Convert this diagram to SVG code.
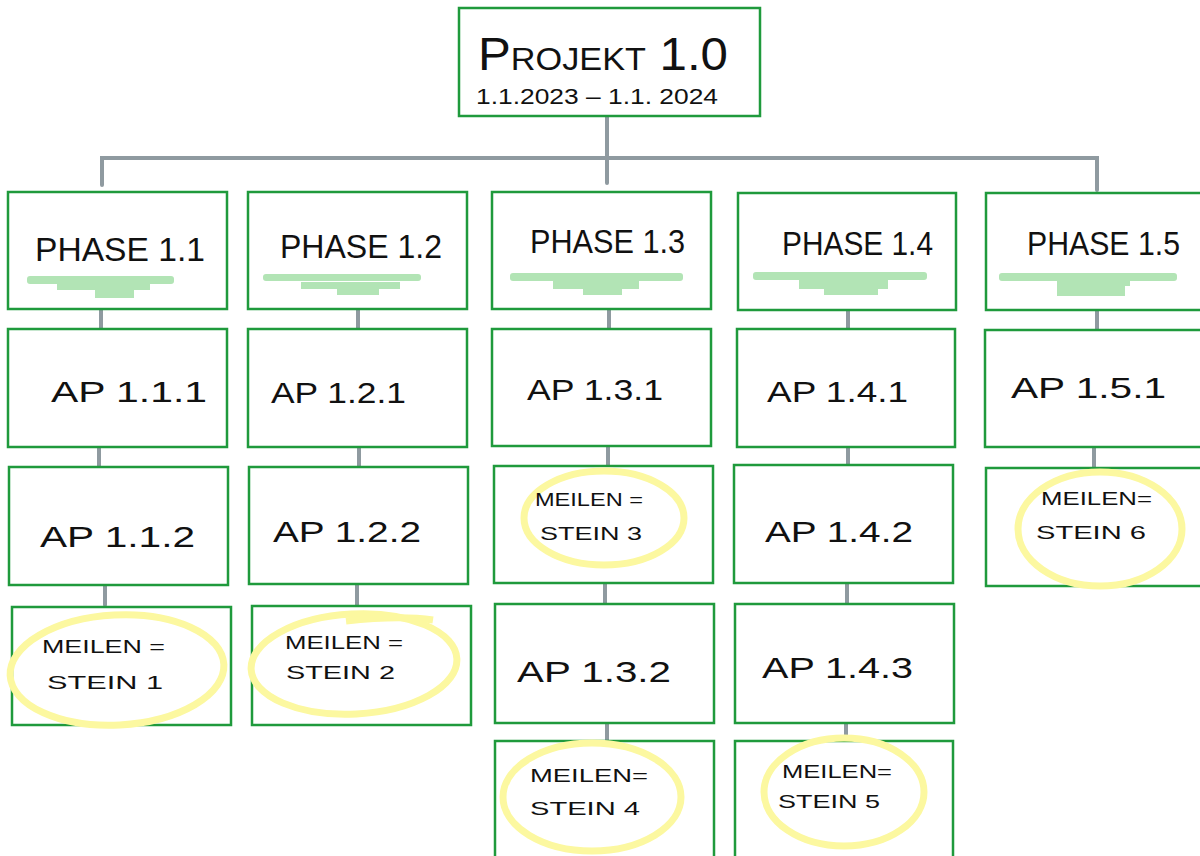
<svg xmlns="http://www.w3.org/2000/svg" width="1200" height="856" viewBox="0 0 1200 856">
<style>
.box{fill:#ffffff;stroke:#1f9a3c;stroke-width:2.5}
.con{fill:none;stroke:#8f9aa0;stroke-width:4;stroke-linecap:round}
.hl{fill:#b2e4b5}
.ms{fill:none;stroke:#fcf8a0;stroke-width:7}
.t{font-family:"Liberation Sans",Arial,sans-serif;fill:#111111}
.ph{font-size:34px}
.ap{font-size:29px}
.mt{font-size:19px}
</style>
<rect width="1200" height="856" fill="#ffffff"/>
<g id="connectors">
<path class="con" d="M607,116 V183 M102,185 V158 H1097 V190"/>
<path class="con" d="M101,309 V329 M99,447 V467 M105,585 V605"/>
<path class="con" d="M358,309 V329 M359,447 V467 M357,584 V605"/>
<path class="con" d="M609,309 V329 M608,446 V466 M605,583 V604 M607,723 V741"/>
<path class="con" d="M848,310 V329 M848,447 V465 M847,583 V604 M846,723 V741"/>
<path class="con" d="M1097,310 V330 M1094,447 V468"/>
</g>
<g id="root">
<rect class="box" x="459" y="8" width="301" height="108"/>
<text class="t" x="478" y="70" font-size="46" font-variant="small-caps" textLength="250" lengthAdjust="spacingAndGlyphs">Projekt 1.0</text>
<text class="t" x="476" y="104" font-size="22" textLength="242" lengthAdjust="spacingAndGlyphs">1.1.2023 – 1.1. 2024</text>
</g>
<g id="phase11">
<rect class="box" x="8" y="192" width="219" height="117"/>
<rect class="hl" x="27" y="276" width="147" height="8" rx="3"/><rect class="hl" x="57" y="283" width="93" height="7"/><rect class="hl" x="95" y="289" width="39" height="9"/>
<text class="t ph" x="35" y="261" textLength="170" lengthAdjust="spacingAndGlyphs">PHASE 1.1</text>
</g>
<g id="phase12">
<rect class="box" x="248" y="192" width="219" height="117"/>
<rect class="hl" x="263" y="274" width="158" height="7" rx="3"/><rect class="hl" x="301" y="282" width="99" height="7"/><rect class="hl" x="337" y="288" width="42" height="7"/>
<text class="t ph" x="280" y="258" textLength="162" lengthAdjust="spacingAndGlyphs">PHASE 1.2</text>
</g>
<g id="phase13">
<rect class="box" x="492" y="192" width="219" height="117"/>
<rect class="hl" x="510" y="273" width="173" height="8" rx="3"/><rect class="hl" x="553" y="280" width="86" height="9"/><rect class="hl" x="583" y="288" width="39" height="7"/>
<text class="t ph" x="530" y="253" textLength="155" lengthAdjust="spacingAndGlyphs">PHASE 1.3</text>
</g>
<g id="phase14">
<rect class="box" x="738" y="193" width="218" height="117"/>
<rect class="hl" x="753" y="272" width="174" height="8" rx="3"/><rect class="hl" x="799" y="279" width="89" height="10"/><rect class="hl" x="824" y="288" width="54" height="7"/>
<text class="t ph" x="782" y="255" textLength="151" lengthAdjust="spacingAndGlyphs">PHASE 1.4</text>
</g>
<g id="phase15">
<rect class="box" x="986" y="193" width="220" height="117"/>
<rect class="hl" x="999" y="273" width="178" height="8" rx="3"/><rect class="hl" x="1077" y="280" width="53" height="6"/><rect class="hl" x="1057" y="280" width="68" height="16"/>
<text class="t ph" x="1027" y="255" textLength="153" lengthAdjust="spacingAndGlyphs">PHASE 1.5</text>
</g>
<g id="ap111">
<rect class="box" x="8" y="329" width="219" height="118"/>
<text class="t ap" x="51" y="402" textLength="156" lengthAdjust="spacingAndGlyphs">AP 1.1.1</text>
</g>
<g id="ap121">
<rect class="box" x="248" y="329" width="219" height="118"/>
<text class="t ap" x="271" y="403" textLength="135" lengthAdjust="spacingAndGlyphs">AP 1.2.1</text>
</g>
<g id="ap131">
<rect class="box" x="492" y="329" width="219" height="117"/>
<text class="t ap" x="527" y="400" textLength="136" lengthAdjust="spacingAndGlyphs">AP 1.3.1</text>
</g>
<g id="ap141">
<rect class="box" x="737" y="329" width="218" height="118"/>
<text class="t ap" x="767" y="402" textLength="141" lengthAdjust="spacingAndGlyphs">AP 1.4.1</text>
</g>
<g id="ap151">
<rect class="box" x="985" y="330" width="221" height="117"/>
<text class="t ap" x="1011" y="398" textLength="155" lengthAdjust="spacingAndGlyphs">AP 1.5.1</text>
</g>
<g id="ap112">
<rect class="box" x="9" y="467" width="219" height="118"/>
<text class="t ap" x="40" y="547" textLength="155" lengthAdjust="spacingAndGlyphs">AP 1.1.2</text>
</g>
<g id="ap122">
<rect class="box" x="249" y="467" width="219" height="117"/>
<text class="t ap" x="273" y="542" textLength="148" lengthAdjust="spacingAndGlyphs">AP 1.2.2</text>
</g>
<g id="ms3">
<rect class="box" x="494" y="466" width="219" height="117"/>
<ellipse class="ms" cx="604" cy="518" rx="80" ry="47"/>
<text class="t mt" x="535" y="506" textLength="108" lengthAdjust="spacingAndGlyphs">MEILEN =</text>
<text class="t mt" x="540" y="540" font-size="21" textLength="102" lengthAdjust="spacingAndGlyphs">STEIN 3</text>
</g>
<g id="ap142">
<rect class="box" x="734" y="465" width="219" height="118"/>
<text class="t ap" x="765" y="542" textLength="148" lengthAdjust="spacingAndGlyphs">AP 1.4.2</text>
</g>
<g id="ms6">
<rect class="box" x="986" y="468" width="220" height="118"/>
<ellipse class="ms" cx="1100" cy="529" rx="82" ry="57"/>
<text class="t mt" x="1041" y="505" textLength="111" lengthAdjust="spacingAndGlyphs">MEILEN=</text>
<text class="t mt" x="1036" y="539" font-size="21" textLength="110" lengthAdjust="spacingAndGlyphs">STEIN 6</text>
</g>
<g id="ms1">
<rect class="box" x="12" y="607" width="219" height="118"/>
<ellipse class="ms" cx="117" cy="670" rx="107" ry="55" transform="rotate(-3 117 670)"/>
<text class="t mt" x="42" y="653" textLength="123" lengthAdjust="spacingAndGlyphs">MEILEN =</text>
<text class="t mt" x="47" y="689" font-size="21" textLength="116" lengthAdjust="spacingAndGlyphs">STEIN 1</text>
</g>
<g id="ms2">
<rect class="box" x="252" y="606" width="219" height="119"/>
<ellipse class="ms" cx="354" cy="664" rx="103" ry="50" transform="rotate(-3 354 664)"/>
<path class="ms" d="M346,621 Q400,615 433,620"/>
<text class="t mt" x="285" y="649" textLength="118" lengthAdjust="spacingAndGlyphs">MEILEN =</text>
<text class="t mt" x="286" y="679" font-size="21" textLength="109" lengthAdjust="spacingAndGlyphs">STEIN 2</text>
</g>
<g id="ap132">
<rect class="box" x="495" y="604" width="219" height="119"/>
<text class="t ap" x="517" y="682" textLength="154" lengthAdjust="spacingAndGlyphs">AP 1.3.2</text>
</g>
<g id="ap143">
<rect class="box" x="735" y="604" width="219" height="119"/>
<text class="t ap" x="762" y="678" textLength="151" lengthAdjust="spacingAndGlyphs">AP 1.4.3</text>
</g>
<g id="ms4">
<rect class="box" x="495" y="741" width="219" height="130"/>
<ellipse class="ms" cx="592" cy="797" rx="89" ry="54"/>
<text class="t mt" x="530" y="782" textLength="118" lengthAdjust="spacingAndGlyphs">MEILEN=</text>
<text class="t mt" x="530" y="815" font-size="21" textLength="110" lengthAdjust="spacingAndGlyphs">STEIN 4</text>
</g>
<g id="ms5">
<rect class="box" x="735" y="741" width="218" height="130"/>
<ellipse class="ms" cx="844" cy="792" rx="80" ry="54"/>
<text class="t mt" x="782" y="778" textLength="110" lengthAdjust="spacingAndGlyphs">MEILEN=</text>
<text class="t mt" x="778" y="808" font-size="21" textLength="102" lengthAdjust="spacingAndGlyphs">STEIN 5</text>
</g>
</svg>
